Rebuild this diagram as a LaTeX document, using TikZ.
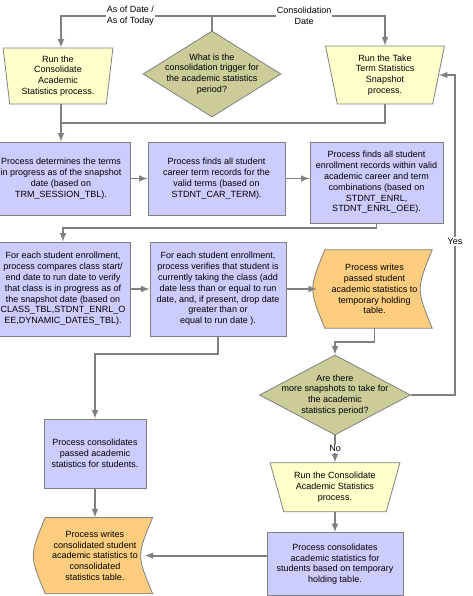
\documentclass[tikz,border=0pt]{standalone}
\usepackage{fontspec}
\setmainfont{Liberation Sans}
\usepackage{tikz}
\usetikzlibrary{shapes.geometric, arrows.meta, positioning, calc, backgrounds}
\definecolor{procblue}{HTML}{CCCCFF}
\definecolor{runyellow}{HTML}{FFFFCC}
\definecolor{askolive}{HTML}{CCCC99}
\definecolor{storeorange}{HTML}{FCCD7E}
\definecolor{linegray}{HTML}{808080}
\tikzstyle{procrect} = [rectangle, 
fill=procblue, 
draw=linegray, 
line width=0.8pt,
align=center, 
inner sep=1pt]
\tikzstyle{runtrap} = [trapezium, trapezium stretches=true,
shape border rotate=180, 
fill=runyellow, 
draw=linegray, 
line width=0.8pt,
align=center, 
inner sep=0pt]
\tikzstyle{decide} = [diamond, 
fill=askolive, 
draw=linegray, 
line width=0.8pt,
inner sep=0pt]
\tikzstyle{storetext} = [rectangle, align=center, inner sep=0pt]
\tikzstyle{storefill} = [fill=storeorange, draw=linegray, line width=0.8pt]
\tikzstyle{flow} = [draw=linegray, line width=1.9pt]
\tikzstyle{flowlabel} = [fill=white, inner sep=1pt, align=center]
% stored data outline round a storetext node
\newcommand{\storedata}[1]{%
  \path[storefill] ([xshift=8pt]#1.north west) -- (#1.north east)
    .. controls ([xshift=-16pt]#1.east) .. (#1.south east)
    -- ([xshift=8pt]#1.south west)
    .. controls ([xshift=-8pt]#1.west) .. cycle;}

\begin{document}
\begin{tikzpicture}[x=1pt, y=1pt, font=\fontsize{9}{10.8}\selectfont]
		\useasboundingbox (0,0) rectangle (473,-596);
		% trigger and the two runs
		\node (trig) [decide, minimum width=138pt, minimum height=86pt,
			label={[align=center]center:What is the\\consolidation trigger for\\the academic statistics\\period?}] at (212,-74) {};
		\node (runA) [runtrap, minimum width=110pt, minimum height=56pt, trapezium angle=83] at (58,-76) {Run the\\Consolidate\\Academic\\Statistics process.};
		\node (runTake) [runtrap, minimum width=119pt, minimum height=58pt, trapezium angle=80] at (385,-75) {Run the Take\\Term Statistics\\Snapshot\\process.};
		
		% first row
		\node (terms) [procrect, minimum width=138pt, minimum height=73pt] at (61,-178.5) {Process determines the terms\\in progress as of the snapshot\\date (based on\\TRM\_SESSION\_TBL).};
		\node (careers) [procrect, minimum width=137pt, minimum height=73pt] at (216.5,-178.5) {Process finds all student\\career term records for the\\valid  terms (based on\\STDNT\_CAR\_TERM).};
		\node (enrl) [procrect, minimum width=133pt, minimum height=81pt] at (376.5,-182.5) {Process finds all student\\enrollment records within valid\\academic career and term\\combinations (based on\\STDNT\_ENRL,\\STDNT\_ENRL\_OEE).};
		
		% second row
		\node (compare) [procrect, minimum width=134pt, minimum height=94pt] at (63,-289) {For each student enrollment,\\process compares class start/\\end date to run date to verify\\that class is in progress as of\\the snapshot date (based on\\CLASS\_TBL,STDNT\_ENRL\_O\\EE,DYNAMIC\_DATES\_TBL).};
		\node (verify) [procrect, minimum width=136pt, minimum height=94pt] at (218,-289) {For each student enrollment,\\process verifies that student is\\currently taking the class (add\\date less than or equal to run\\date,  and, if present, drop date\\greater than or\\equal to run date ).};
		\node (temp) [storetext, minimum width=115pt, minimum height=78pt] at (374.5,-289) {Process writes\\passed student\\academic statistics to\\temporary holding\\table.};
		
		% more snapshots and consolidation
		\node (more) [decide, minimum width=151pt, minimum height=80pt,
			label={[align=center]center:Are there\\more snapshots to take for\\the academic\\statistics period?}] at (335,-395) {};
		\node (runFin) [runtrap, below=27pt of more, minimum width=130pt, minimum height=49pt, trapezium angle=70] {Run the Consolidate\\Academic Statistics\\process.};
		\node (final) [procrect, below=20pt of runFin, minimum width=136pt, minimum height=63pt] {Process consolidates\\academic statistics for\\students based on temporary\\holding table.};
		\node (passed) [procrect, minimum width=102pt, minimum height=69pt] at (95,-453.5) {Process consolidates\\passed academic\\statistics for students.};
		\node (consol) [storetext, below=29pt of passed, minimum width=115pt, minimum height=76pt] {Process writes\\consolidated student\\academic statistics to\\consolidated\\statistics table.};
		
		\begin{scope}[on background layer]
			\storedata{temp}
			\storedata{consol}
		\end{scope}
		
		\coordinate (split) at ($(trig.north)+(0,15)$);
		\coordinate (merge) at ($(runA.south)!0.5!(terms.north)$);
		\coordinate (loopx) at (455,0);
		
		\draw [flow](trig.north) -- (split);
		\draw [flow, -latex](split) -| node[flowlabel, pos=0.27] {As of Date /\\As of Today} (terms.north |- runA.north);
		\draw [flow, -latex](split) -| node[flowlabel, pos=0.266] {Consolidation\\Date} (runTake.north);
		\draw [flow, -latex](terms.north |- runA.south) -- (terms.north);
		\draw [flow](runTake.south) |- (terms.north |- merge);
		\draw [flow, -latex](terms) -- (careers);
		\draw [flow, -latex](careers.east) -- (careers.east -| enrl.west);
		\draw [flow, -latex](enrl.south) -- ++(0,-5) -| (compare.north);
		\draw [flow, -latex](compare) -- (verify);
		\draw [flow, -latex](verify) -- (temp);
		\draw [flow, -latex](verify.south) -- ++(0,-18) -| (passed.north);
		\draw [flow, -latex](temp.south) -- ++(0,-14) -| (more.north);
		\draw [flow, -latex](more.east) -- (more.east -| loopx) |- node[flowlabel, pos=0.24] {Yes} (runTake.east);
		\draw [flow, -latex](more.south) -- node[flowlabel] {No} (runFin.north);
		\draw [flow, -latex](runFin) -- (final);
		\draw [flow, -latex](passed) -- (consol);
		\draw [flow, -latex](final.west |- consol.east) -- ([xshift=-8pt]consol.east);
	\end{tikzpicture}
\end{document}
